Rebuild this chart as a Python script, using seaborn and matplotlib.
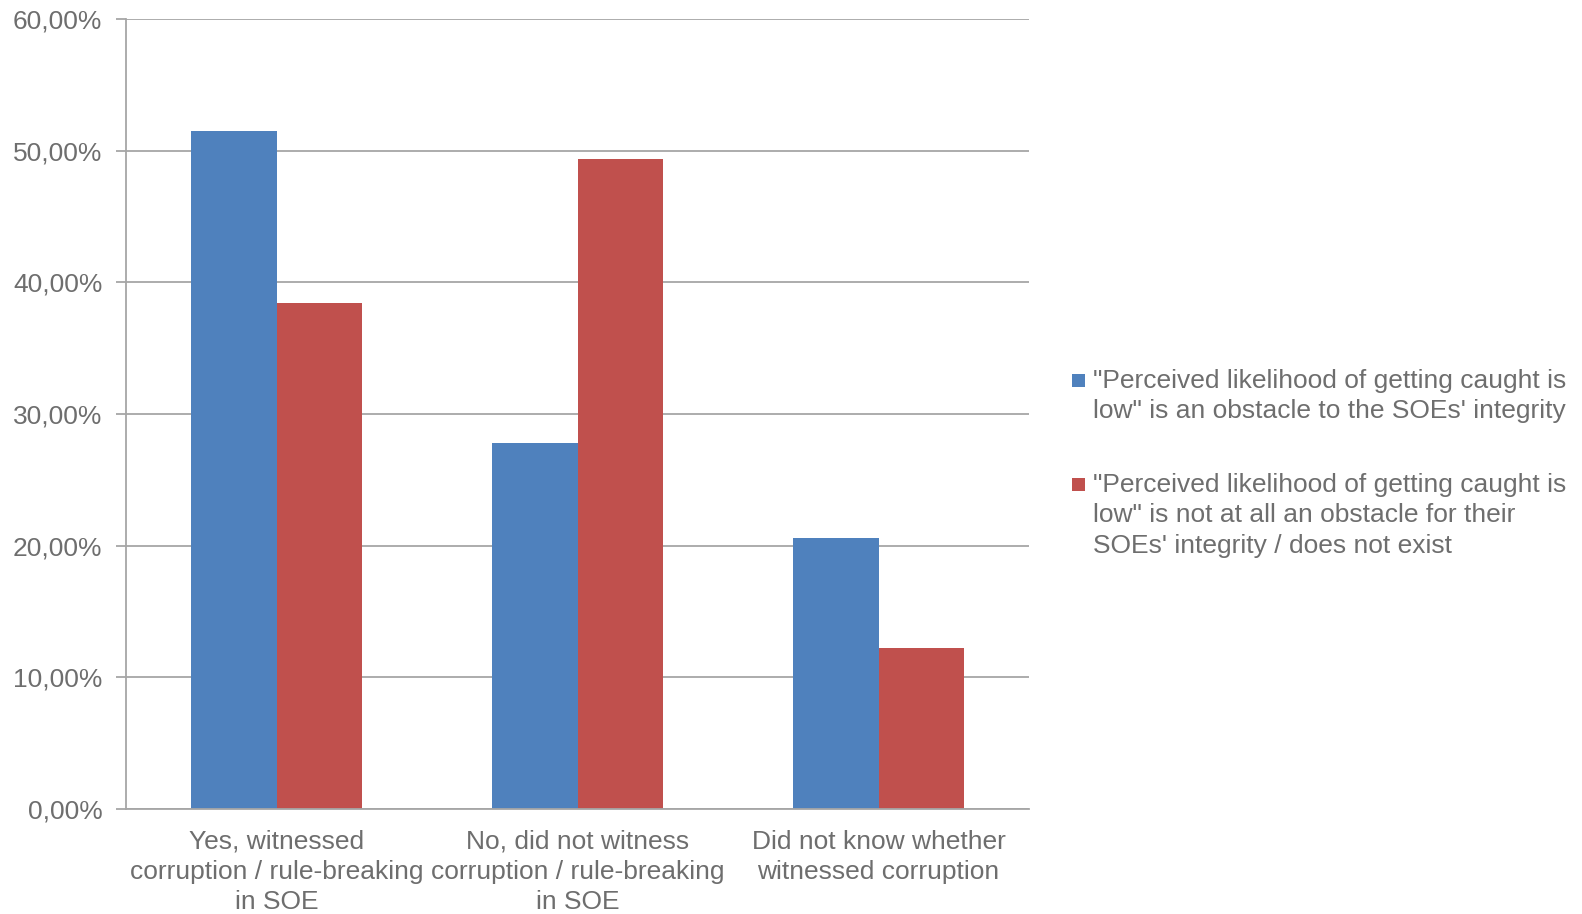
import matplotlib
matplotlib.use("Agg")
import matplotlib.pyplot as plt
import seaborn as sns
import pandas as pd
import numpy as np
from matplotlib.patches import Rectangle

categories = ["Yes, witnessed\ncorruption / rule-breaking\nin SOE",
              "No, did not witness\ncorruption / rule-breaking\nin SOE",
              "Did not know whether\nwitnessed corruption"]
series_names = ["\"Perceived likelihood of getting caught is\nlow\" is an obstacle to the SOEs' integrity",
                "\"Perceived likelihood of getting caught is\nlow\" is not at all an obstacle for their\nSOEs' integrity / does not exist"]
obstacle = [51.5, 27.8, 20.55]
not_obstacle = [38.4, 49.35, 12.2]
yticks = [0, 10, 20, 30, 40, 50, 60]
ytick_labels = ["0,00%", "10,00%", "20,00%", "30,00%", "40,00%", "50,00%", "60,00%"]

colors = ["#4F81BD", "#C0504D"]
text_color = "#6e6e6e"
grid_color = "#a6a6a6"
FS = 19
LS = 1.33

df = pd.DataFrame({
    "category": categories * 2,
    "series": [series_names[0]] * 3 + [series_names[1]] * 3,
    "value": obstacle + not_obstacle,
})

sns.set_theme(style="white")
plt.rcParams["font.family"] = ["Liberation Sans", "DejaVu Sans"]

fig = plt.figure(figsize=(15.82, 9.14), dpi=100)
ax = fig.add_axes([126 / 1582, 1 - 809 / 914, (1029 - 126) / 1582, (809 - 19) / 914])

sns.barplot(data=df, x="category", y="value", hue="series", palette=colors,
            width=0.57, saturation=1, ax=ax, legend=False, linewidth=0)

ax.set_ylim(0, 60)
ax.set_xlim(-0.5, 2.5)
ax.set_yticks(yticks)
ax.set_yticklabels(ytick_labels, color=text_color, fontsize=FS)
ax.yaxis.grid(True, color=grid_color, linewidth=1.3)
ax.set_axisbelow(True)
ax.set_xlabel("")
ax.set_ylabel("")
ax.set_xticks([0, 1, 2])
ax.set_xticklabels(categories, color=text_color, fontsize=FS, linespacing=LS)
ax.set_xticks([-0.5, 0.5, 1.5, 2.5], minor=True)
ax.tick_params(axis="x", which="major", length=0, pad=15)
ax.tick_params(axis="x", which="minor", length=7, color=grid_color, width=1.3)
ax.tick_params(axis="y", length=7, color=grid_color, width=1.3, left=True, pad=10)

for s in ["top", "right"]:
    ax.spines[s].set_visible(False)
for s in ["left", "bottom"]:
    ax.spines[s].set_color(grid_color)
    ax.spines[s].set_linewidth(1.3)

# legend (manual, marker aligned with first line as in reference)
leg_tops = [380, 484]
for name, c, yc in zip(series_names, colors, leg_tops):
    fig.patches.append(Rectangle((1072 / 1582, 1 - (yc + 6.5) / 914), 13 / 1582, 13 / 914,
                                 transform=fig.transFigure, facecolor=c, edgecolor="none"))
    fig.text(1093 / 1582, 1 - (yc - 11) / 914, name, color=text_color, fontsize=FS,
             va="top", ha="left", linespacing=LS)

fig.savefig("out.png", dpi=100)
